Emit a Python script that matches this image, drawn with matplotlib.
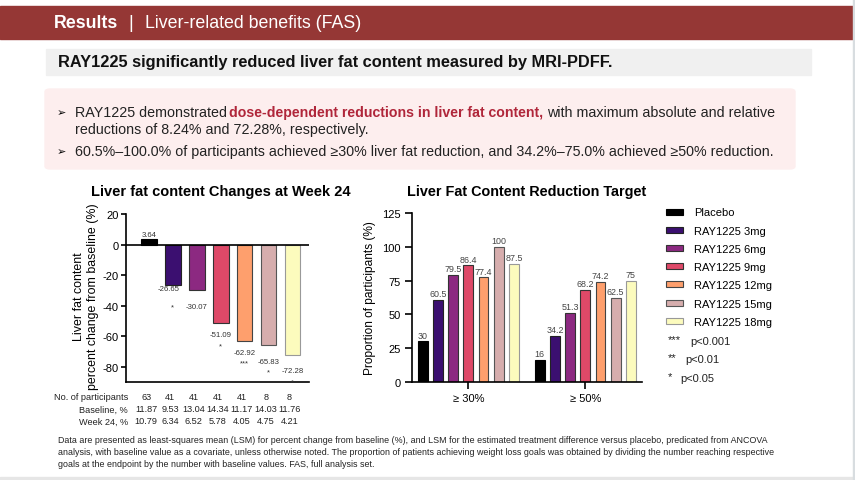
import matplotlib.pyplot as plt
from matplotlib.patches import Rectangle, FancyBboxPatch
import matplotlib.transforms as mtransforms
import numpy as np

plt.rcParams['font.family'] = ['Liberation Sans', 'DejaVu Sans']
plt.rcParams['axes.unicode_minus'] = False

# data
groups = ['Placebo', 'RAY1225 3mg', 'RAY1225 6mg', 'RAY1225 9mg',
          'RAY1225 12mg', 'RAY1225 15mg', 'RAY1225 18mg']
change = [3.64, -26.65, -30.07, -51.09, -62.92, -65.83, -72.28]
stars = ['', '*', '', '*', '***', '*', '*']
n_part = [63, 41, 41, 41, 41, 8, 8]
baseline = [11.87, 9.53, 13.04, 14.34, 11.17, 14.03, 11.76]
week24 = [10.79, 6.34, 6.52, 5.78, 4.05, 4.75, 4.21]

targets = ['≥ 30%', '≥ 50%']
prop30 = [30, 60.5, 79.5, 86.4, 77.4, 100, 87.5]
prop50 = [16, 34.2, 51.3, 68.2, 74.2, 62.5, 75]

sig_keys = ['***', '**', '*']
sig_text = ['p<0.001', 'p<0.01', 'p<0.05']

colors = ['#000000', '#3b0f70', '#8c2981', '#de4968', '#fe9f6d', '#d6adad', '#fcfbbd']
edges = ['#000000', '#222222', '#333333', '#333333', '#444444', '#555555', '#999999']

W, H = 855, 481
fig = plt.figure(figsize=(W / 100, H / 100), dpi=100)
fig.patch.set_facecolor('white')


def fx(x):
    return x / W


def fy(y):
    return 1 - y / H


PT = 0.72  # px -> points

# header
fig.patches.append(Rectangle((0, fy(40)), 1, 33 / H, transform=fig.transFigure,
                             color='#953735', zorder=0))
fig.text(fx(54), fy(24), 'Results', color='white', fontsize=12.8, weight='bold', va='center')
fig.text(fx(128), fy(24), '|', color='white', fontsize=12.8, va='center')
fig.text(fx(145), fy(24), 'Liver-related benefits (FAS)', color='white', fontsize=12.8, va='center')

# subtitle
fig.patches.append(Rectangle((fx(46), fy(76)), fx(811) - fx(46), 26 / H,
                             transform=fig.transFigure, color='#f0f0f0', zorder=0))
fig.text(fx(58), fy(63), 'RAY1225 significantly reduced liver fat content measured by MRI-PDFF.',
         fontsize=11.8, weight='bold', va='center', color='#111111')

# pink box with bullets
fig.patches.append(FancyBboxPatch((fx(45), fy(170)), fx(795) - fx(45), 80 / H,
                                  boxstyle='round,pad=0,rounding_size=0.006',
                                  transform=fig.transFigure, color='#fdeeee', zorder=0))
renderer = fig.canvas.get_renderer()


def chain(parts, x0, y0):
    x = x0
    for s, gap, kw in parts:
        t = fig.text(fx(x), fy(y0), s, va='center', **kw)
        x += t.get_window_extent(renderer).width + gap
    return x


bsize = 10.3
fig.text(fx(57), fy(113), '➢', fontsize=8, va='center', family=['DejaVu Sans'])
fig.text(fx(57), fy(152), '➢', fontsize=8, va='center', family=['DejaVu Sans'])
chain([('RAY1225 demonstrated', 2, {'color': '#222222', 'fontsize': bsize}),
       ('dose-dependent reductions in liver fat content,', 4,
        {'color': '#b0263a', 'weight': 'bold', 'fontsize': 10.2}),
       ('with maximum absolute and relative', 0, {'color': '#222222', 'fontsize': bsize})], 75, 113)
fig.text(fx(75), fy(130), 'reductions of 8.24% and 72.28%, respectively.', fontsize=bsize,
         va='center', color='#222222')
fig.text(fx(75), fy(152), '60.5%–100.0% of participants achieved ≥30% liver fat reduction, '
         'and 34.2%–75.0% achieved ≥50% reduction.', fontsize=bsize, va='center', color='#222222')

# left chart
ax1 = fig.add_axes([fx(126), fy(383), (309 - 126) / W, 168 / H])
x = np.arange(len(groups))
ax1.bar(x, change, width=0.65, color=colors, edgecolor=edges, linewidth=0.8, zorder=2)
ax1.axhline(0, color='black', lw=1.2, zorder=3)
ax1.set_xlim(-0.96, 6.69)
ax1.set_ylim(-90, 20)
ax1.set_yticks([20, 0, -20, -40, -60, -80])
ax1.set_xticks([])
for s in ['top', 'right']:
    ax1.spines[s].set_visible(False)
for s in ['left', 'bottom']:
    ax1.spines[s].set_linewidth(1.2)
ax1.tick_params(axis='y', labelsize=8, length=3.5, width=1.2, pad=2)
ax1.set_ylabel('Liver fat content\npercent change from baseline (%)', fontsize=8.9, linespacing=1.12)
ax1.yaxis.set_label_coords(-0.15, 0.515)

lsize = 5.6
label_drop = [-6, 1.5, 14.3, 11, 11, 15.6, 14.7]
label_dx = [0, -4.5, 0, 0, 0, 0, 0]
star_drop = [0, 18, 0, 10, 9, 9.3, 10]
for i, v in enumerate(change):
    base = label_drop[i] + 0.358 * lsize / PT
    ax1.annotate(f'{v:.2f}', (i, v), xytext=(label_dx[i] * PT, -base * PT),
                 textcoords='offset points', ha='center', va='baseline',
                 fontsize=lsize, color='#333333')
    if stars[i]:
        sb = label_drop[i] + star_drop[i] + 0.5 * 5.5 / PT
        ax1.annotate(stars[i], (i, v), xytext=(0, -sb * PT), textcoords='offset points',
                     ha='center', va='baseline', fontsize=5.5, color='#333333')

# table under left chart
tr = mtransforms.blended_transform_factory(ax1.transData, fig.transFigure)
rows = [('No. of participants', [str(n) for n in n_part]),
        ('Baseline, %', [f'{b:.2f}' for b in baseline]),
        ('Week 24, %', [f'{w:.2f}' for w in week24])]
for r, (name, vals) in enumerate(rows):
    yy = fy(398 + 12 * r)
    fig.text(fx(128), yy, name, ha='right', va='center', fontsize=6.6, color='#222222')
    for i, s in enumerate(vals):
        fig.text(i - 0.12, yy, s, transform=tr, ha='center', va='center', fontsize=6.6,
                 color='#222222')

fig.text(fx(221), fy(192), 'Liver fat content Changes at Week 24', ha='center', va='center',
         fontsize=10.5, weight='bold')

# right chart
ax2 = fig.add_axes([fx(411.7), fy(382.7), 230 / W, 168.4 / H])
gx = np.arange(len(targets))
for i in range(len(groups)):
    vals = [prop30[i], prop50[i]]
    xs = gx + (i - 3) * 0.13
    ax2.bar(xs, vals, width=0.083, color=colors[i], edgecolor=edges[i], linewidth=0.8,
            label=groups[i], zorder=2)
    for xx, v in zip(xs, vals):
        ax2.annotate(f'{v:g}', (xx, v), xytext=(0, 2.7), textcoords='offset points',
                     ha='center', va='baseline', fontsize=6.4, color='#444444')
ax2.set_xlim(-0.484, 1.482)
ax2.set_ylim(0, 125)
ax2.set_yticks([0, 25, 50, 75, 100, 125])
ax2.set_xticks(gx)
ax2.set_xticklabels(targets)
for s in ['top', 'right']:
    ax2.spines[s].set_visible(False)
for s in ['left', 'bottom']:
    ax2.spines[s].set_linewidth(1.2)
ax2.tick_params(labelsize=8, length=5, width=1.2, pad=3)
ax2.set_ylabel('Proportion of participants (%)', fontsize=8.6)
ax2.yaxis.set_label_coords(-0.155, 0.5)
fig.text(fx(527), fy(192), 'Liver Fat Content Reduction Target', ha='center', va='center',
         fontsize=10.4, weight='bold')

# legend
h, l = ax2.get_legend_handles_labels()
fig.legend(h, l, loc='upper left', bbox_to_anchor=(fx(666), fy(208.5)), frameon=False,
           fontsize=8, handlelength=1.55, handleheight=0.45, handletextpad=1.0,
           labelspacing=0.74, borderpad=0, borderaxespad=0)
for k, (key, txt) in enumerate(zip(sig_keys, sig_text)):
    yy = fy(342.3 + 18.2 * k)
    fig.text(fx(668), yy + 2 / H, key, fontsize=8, va='center', color='#222222')
    fig.text(fx(690.7 - 5 * k), yy, txt, fontsize=8, va='center', color='#222222')

# footnote
notes = ['Data are presented as least-squares mean (LSM) for percent change from baseline (%), and LSM for the '
         'estimated treatment difference versus placebo, predicated from ANCOVA',
         'analysis, with baseline value as a covariate, unless otherwise noted. The proportion of patients '
         'achieving weight loss goals was obtained by dividing the number reaching respective',
         'goals at the endpoint by the number with baseline values. FAS, full analysis set.']
for k, s in enumerate(notes):
    fig.text(fx(58), fy(441 + 12 * k), s, fontsize=6.4, va='center', color='#222222')

# page edges
fig.patches.append(Rectangle((0, 0), 1, 3 / H, transform=fig.transFigure, color='#e6e6e6', zorder=0))
fig.patches.append(Rectangle((fx(853), 0), 2 / W, 1, transform=fig.transFigure, color='#d8dde0', zorder=0))

fig.savefig('out.png', dpi=100)
